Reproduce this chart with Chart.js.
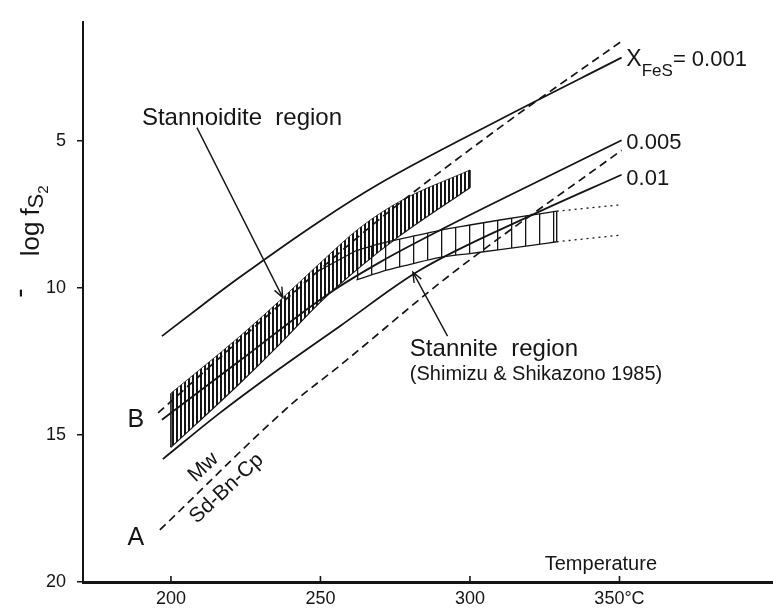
<!DOCTYPE html>
<html lang="en">
<head>
<meta charset="UTF-8">
<title>-log fS2 vs temperature</title>
<script src="https://cdn.jsdelivr.net/npm/chart.js@4.4.0/dist/chart.umd.min.js"></script>
<style>
  body { margin: 0; background: #fff; }
  #wrap { width: 773px; height: 608px; }
</style>
</head>
<body>
<div id="wrap"><canvas id="chart"></canvas></div>
<script>
// axis ticks
const xTicks = [200, 250, 300, 350];
const xTickLabels = ['200', '250', '300', '350°C'];
const yTicks = [5, 10, 15, 20];
const yTickLabels = ['5', '10', '15', '20'];

// X_FeS isopleths, temperature (C) and -log fS2
const tFeS0001 = [197.0, 210.7, 223.1, 249.8, 269.8, 309.9, 350.7];
const yFeS0001 = [11.64, 10.57, 9.63, 7.73, 6.45, 4.28, 2.17];
const tFeS0005 = [197.0, 223.1, 253.1, 269.8, 290.9, 309.9, 350.7];
const yFeS0005 = [14.48, 12.47, 10.17, 9.13, 7.99, 7.02, 4.98];
const tFeS001 = [197.3, 216.4, 236.4, 256.5, 283.2, 319.9, 350.7];
const yFeS001 = [15.82, 14.25, 12.74, 11.30, 9.40, 7.56, 6.15];

// dashed reaction lines B and A (Mw / Sd-Bn-Cp)
const tB = [195.7, 229.7, 269.8, 309.9, 350.7];
const yB = [14.25, 11.17, 7.66, 4.55, 1.61];
const tA = [196.3, 240.8, 256.5, 293.2, 350.7];
const yA = [18.23, 13.91, 12.64, 9.57, 5.32];

// stannoidite region (upper / lower edge)
const tStd = [200, 223.1, 236.4, 249.8, 263.1, 276.5, 300];
const yStdTop = [13.58, 11.64, 10.43, 9.16, 7.96, 7.06, 5.99];
const yStdBot = [15.42, 13.24, 11.91, 10.50, 9.30, 8.23, 6.59];

// stannite region (Shimizu & Shikazono 1985)
const tSnt = [262, 270, 280, 290, 300, 310, 320, 329];
const ySntTop = [8.73, 8.49, 8.26, 8.04, 7.86, 7.69, 7.53, 7.39];
const ySntBot = [9.73, 9.46, 9.20, 8.96, 8.83, 8.70, 8.56, 8.43];
const tSntExt = [249.8, 262];
const ySntExt = [9.40, 8.73];
// dotted continuation
const tDot = [329, 350.7];
const yDotTop = [7.39, 7.17];
const yDotBot = [8.43, 8.20];

const pts = (xs, ys) => xs.map((x, i) => ({x: x, y: ys[i]}));
const ink = '#151515';
const FONT = '"Liberation Sans", Arial, sans-serif';

function line(data, opts) {
  return Object.assign({
    data: data, borderColor: ink, borderWidth: 1.8, pointRadius: 0,
    fill: false, cubicInterpolationMode: 'monotone'
  }, opts || {});
}

const cv = document.getElementById('chart');
const ctx0 = cv.getContext('2d');
function stripes(period, marks, w) {
  const c = document.createElement('canvas');
  c.width = period; c.height = 4;
  const g = c.getContext('2d');
  g.fillStyle = ink;
  marks.forEach(m => g.fillRect(m, 0, w, 4));
  return ctx0.createPattern(c, 'repeat');
}
const densePattern = stripes(4, [0], 2);
const sparsePattern = stripes(14, [7], 1.3);

const notes = [
  {text: 'Stannoidite  region', t: 190.3, y: 4.45, size: 24},
  {text: 'Stannite  region', t: 279.9, y: 12.31, size: 24},
  {text: '(Shimizu & Shikazono 1985)', t: 279.9, y: 13.14, size: 20},
  {text: 'Temperature', t: 325.0, y: 19.6, size: 20},
  {text: 'B', t: 188.3, y: 14.5, size: 25, align: 'center', base: 'middle'},
  {text: 'A', t: 188.3, y: 18.5, size: 25, align: 'center', base: 'middle'},
  {text: '0.005', t: 352.3, y: 5.28, size: 22},
  {text: '0.01', t: 352.3, y: 6.49, size: 22},
  {text: 'Mw', t: 210.9, y: 16.1, size: 21, align: 'center', base: 'middle', rot: -43},
  {text: 'Sd-Bn-Cp', t: 218.6, y: 16.82, size: 21, align: 'center', base: 'middle', rot: -43}
];
const arrows = [
  {from: [208.7, 4.55], to: [237.4, 10.33]},
  {from: [292.5, 11.64], to: [280.9, 9.46]}
];

function drawParts(ctx, parts, x0) {
  let x = x0;
  parts.forEach(p => {
    if (p.gap) { x += p.gap; return; }
    ctx.font = p.size + 'px ' + FONT;
    ctx.fillText(p.text, x, p.dy || 0);
    x += ctx.measureText(p.text).width;
  });
}

const notesPlugin = {
  id: 'notes',
  afterDraw(chart) {
    const {ctx, chartArea} = chart;
    const xs = chart.scales.x, ys = chart.scales.y;
    ctx.save();
    ctx.fillStyle = ink;
    ctx.strokeStyle = ink;

    // inward ticks on the temperature axis
    ctx.lineWidth = 1.6;
    xTicks.forEach(v => {
      const px = xs.getPixelForValue(v);
      ctx.beginPath();
      ctx.moveTo(px, chartArea.bottom);
      ctx.lineTo(px, chartArea.bottom - 6);
      ctx.stroke();
    });

    notes.forEach(n => {
      ctx.save();
      ctx.translate(xs.getPixelForValue(n.t), ys.getPixelForValue(n.y));
      if (n.rot) ctx.rotate(n.rot * Math.PI / 180);
      ctx.font = n.size + 'px ' + FONT;
      ctx.textAlign = n.align || 'left';
      ctx.textBaseline = n.base || 'alphabetic';
      ctx.fillText(n.text, 0, 0);
      ctx.restore();
    });

    // X_FeS = 0.001
    ctx.textAlign = 'left';
    ctx.textBaseline = 'alphabetic';
    ctx.save();
    ctx.translate(xs.getPixelForValue(352.3), ys.getPixelForValue(2.44));
    drawParts(ctx, [
      {text: 'X', size: 23},
      {text: 'FeS', size: 17, dy: 10},
      {text: '= 0.001', size: 22}
    ], 0);
    ctx.restore();

    // y axis title, read bottom to top
    ctx.save();
    ctx.translate(chartArea.left - 44, ys.getPixelForValue(10.33));
    ctx.rotate(-Math.PI / 2);
    drawParts(ctx, [
      {text: '-', size: 28, dy: -11},
      {gap: 32},
      {text: 'log', size: 26},
      {gap: 6},
      {text: 'f', size: 26},
      {text: 'S', size: 22, dy: 4},
      {text: '2', size: 15, dy: 9}
    ], 0);
    ctx.restore();

    // arrows
    ctx.lineWidth = 1.4;
    arrows.forEach(a => {
      const x1 = xs.getPixelForValue(a.from[0]), y1 = ys.getPixelForValue(a.from[1]);
      const x2 = xs.getPixelForValue(a.to[0]), y2 = ys.getPixelForValue(a.to[1]);
      const ang = Math.atan2(y2 - y1, x2 - x1);
      ctx.beginPath();
      ctx.moveTo(x1, y1);
      ctx.lineTo(x2, y2);
      ctx.moveTo(x2 - 11 * Math.cos(ang - 0.38), y2 - 11 * Math.sin(ang - 0.38));
      ctx.lineTo(x2, y2);
      ctx.lineTo(x2 - 11 * Math.cos(ang + 0.38), y2 - 11 * Math.sin(ang + 0.38));
      ctx.stroke();
    });
    ctx.restore();
  }
};

const last = a => a[a.length - 1];

new Chart(cv, {
  type: 'line',
  data: {
    datasets: [
      line(pts(tFeS0001, yFeS0001)),
      line(pts(tFeS0005, yFeS0005)),
      line(pts(tFeS001, yFeS001)),
      line(pts(tB, yB), {borderDash: [8, 5], borderWidth: 1.7}),
      line(pts(tA, yA), {borderDash: [8, 5], borderWidth: 1.7}),
      line(pts(tSntExt, ySntExt), {borderWidth: 1.2}),
      line(pts(tDot, yDotTop), {borderDash: [2, 4], borderWidth: 1.3}),
      line(pts(tDot, yDotBot), {borderDash: [2, 4], borderWidth: 1.3}),
      line([{x: last(tSnt), y: last(ySntTop)}, {x: last(tSnt), y: last(ySntBot)}], {borderWidth: 1.4, cubicInterpolationMode: 'default'}),
      line([{x: tStd[0], y: yStdTop[0]}, {x: tStd[0], y: yStdBot[0]}], {borderWidth: 1.6, cubicInterpolationMode: 'default'}),
      line([{x: last(tStd), y: last(yStdTop)}, {x: last(tStd), y: last(yStdBot)}], {borderWidth: 1.6, cubicInterpolationMode: 'default'}),
      line(pts(tSnt, ySntTop), {borderWidth: 1.3, fill: '+1', backgroundColor: sparsePattern}),
      line(pts(tSnt, ySntBot), {borderWidth: 1.3}),
      line(pts(tStd, yStdTop), {borderWidth: 0.8, fill: '+1', backgroundColor: densePattern}),
      line(pts(tStd, yStdBot), {borderWidth: 1.2})
    ]
  },
  options: {
    responsive: true,
    maintainAspectRatio: false,
    animation: false,
    events: [],
    layout: {padding: {top: 12, right: 1, left: 0, bottom: 0}},
    plugins: {legend: {display: false}, tooltip: {enabled: false}},
    scales: {
      x: {
        type: 'linear', min: 170.6, max: 401,
        afterFit: s => { s.height = 26; },
        afterBuildTicks: s => { s.ticks = xTicks.map(v => ({value: v})); },
        grid: {display: false, drawTicks: false},
        border: {display: true, color: ink, width: 3},
        ticks: {
          padding: 6, color: ink, maxRotation: 0, autoSkip: false,
          font: {family: FONT, size: 18},
          callback: (v) => xTickLabels[xTicks.indexOf(v)]
        }
      },
      y: {
        type: 'linear', reverse: true, min: 0.95, max: 20,
        afterFit: s => { s.width = 83; },
        afterBuildTicks: s => { s.ticks = yTicks.map(v => ({value: v})); },
        grid: {drawOnChartArea: false, drawTicks: true, tickLength: 6, color: ink, lineWidth: 1.5},
        border: {display: true, color: ink, width: 2},
        ticks: {
          padding: 11, color: ink, autoSkip: false,
          font: {family: FONT, size: 18},
          callback: (v) => yTickLabels[yTicks.indexOf(v)]
        }
      }
    }
  },
  plugins: [notesPlugin]
});
</script>
</body>
</html>
